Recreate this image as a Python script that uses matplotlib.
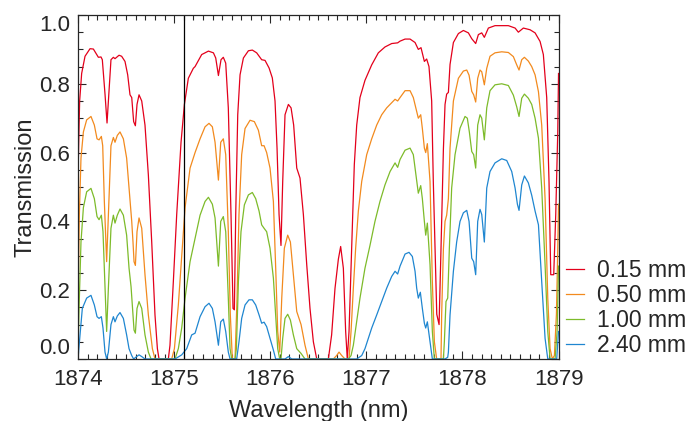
import matplotlib
matplotlib.use("Agg")
import matplotlib.pyplot as plt
from matplotlib.ticker import MultipleLocator

plt.rcParams['font.family'] = ['Liberation Sans', 'DejaVu Sans']

labels = ["0.15 mm", "0.50 mm", "1.00 mm", "2.40 mm"]
colors = ["#e3001b", "#f28a1e", "#7dbb2a", "#1f86d0"]
marker_line = 1875.107

wl_015 = [1874.000, 1874.017, 1874.038, 1874.073, 1874.125, 1874.160, 1874.194, 1874.212,
          1874.239, 1874.253, 1874.281, 1874.302, 1874.316, 1874.343, 1874.368, 1874.385,
          1874.427, 1874.454, 1874.489, 1874.517, 1874.541, 1874.559, 1874.579, 1874.597,
          1874.614, 1874.635, 1874.663, 1874.697, 1874.732, 1874.767, 1874.801, 1874.826,
          1874.843, 1874.940, 1874.957, 1874.992, 1875.027, 1875.072, 1875.107, 1875.148,
          1875.200, 1875.218, 1875.287, 1875.357, 1875.409, 1875.433, 1875.461, 1875.488,
          1875.512, 1875.537, 1875.564, 1875.592, 1875.613, 1875.627, 1875.641, 1875.662,
          1875.686, 1875.721, 1875.773, 1875.814, 1875.859, 1875.911, 1875.946, 1875.988,
          1876.022, 1876.050, 1876.071, 1876.092, 1876.112, 1876.130, 1876.154, 1876.189,
          1876.217, 1876.244, 1876.276, 1876.310, 1876.345, 1876.380, 1876.414, 1876.449,
          1876.484, 1876.605, 1876.639, 1876.674, 1876.709, 1876.733, 1876.761, 1876.785,
          1876.802, 1876.820, 1876.848, 1876.875, 1876.900, 1876.934, 1876.986, 1877.056,
          1877.125, 1877.194, 1877.264, 1877.326, 1877.351, 1877.403, 1877.455, 1877.507,
          1877.541, 1877.569, 1877.604, 1877.628, 1877.652, 1877.680, 1877.697, 1877.722,
          1877.733, 1877.757, 1877.777, 1877.802, 1877.819, 1877.836, 1877.854, 1877.871,
          1877.906, 1877.958, 1878.010, 1878.062, 1878.097, 1878.138, 1878.166, 1878.201,
          1878.228, 1878.270, 1878.339, 1878.478, 1878.548, 1878.582, 1878.634, 1878.704,
          1878.756, 1878.808, 1878.842, 1878.877, 1878.901, 1878.919, 1878.950, 1878.971,
          1878.992, 1879.000]
tr_015 = [0.535, 0.75, 0.83, 0.88, 0.902, 0.901, 0.885, 0.877,
          0.878, 0.87, 0.77, 0.686, 0.75, 0.87, 0.877, 0.873,
          0.883, 0.88, 0.865, 0.826, 0.768, 0.76, 0.69, 0.678,
          0.74, 0.768, 0.75, 0.68, 0.535, 0.34, 0.128, 0.03,
          0.0, 0.0, 0.04, 0.225, 0.42, 0.63, 0.74, 0.816,
          0.845, 0.85, 0.885, 0.895, 0.89, 0.875, 0.824, 0.87,
          0.877, 0.86, 0.73, 0.42, 0.147, 0.143, 0.42, 0.71,
          0.826, 0.875, 0.896, 0.898, 0.89, 0.87, 0.868, 0.846,
          0.817, 0.75, 0.613, 0.42, 0.33, 0.516, 0.71, 0.74,
          0.73, 0.68, 0.555, 0.526, 0.42, 0.274, 0.147, 0.05,
          0.0, 0.0, 0.07, 0.205, 0.29, 0.327, 0.264, 0.08,
          0.0, 0.08, 0.322, 0.565, 0.68, 0.76, 0.81, 0.855,
          0.89, 0.907, 0.917, 0.919, 0.924, 0.93, 0.93, 0.92,
          0.90, 0.905, 0.865, 0.872, 0.85, 0.75, 0.516, 0.24,
          0.13, 0.10, 0.32, 0.61, 0.74, 0.77, 0.775, 0.856,
          0.92, 0.946, 0.955, 0.948, 0.931, 0.917, 0.943, 0.948,
          0.935, 0.962, 0.969, 0.969, 0.962, 0.95, 0.962, 0.957,
          0.948, 0.923, 0.885, 0.76, 0.516, 0.245, 0.245, 0.42,
          0.66, 0.83]

wl_050 = [1874.000, 1874.014, 1874.031, 1874.056, 1874.090, 1874.135, 1874.170, 1874.198,
          1874.219, 1874.243, 1874.257, 1874.274, 1874.298, 1874.316, 1874.343, 1874.368,
          1874.385, 1874.409, 1874.437, 1874.472, 1874.506, 1874.531, 1874.559, 1874.572,
          1874.583, 1874.597, 1874.614, 1874.635, 1874.663, 1874.697, 1874.732, 1874.774,
          1874.801, 1874.975, 1875.003, 1875.044, 1875.079, 1875.114, 1875.166, 1875.218,
          1875.270, 1875.322, 1875.363, 1875.398, 1875.426, 1875.461, 1875.485, 1875.512,
          1875.537, 1875.564, 1875.585, 1875.606, 1875.634, 1875.655, 1875.675, 1875.703,
          1875.738, 1875.790, 1875.835, 1875.877, 1875.911, 1875.936, 1875.963, 1875.998,
          1876.033, 1876.057, 1876.078, 1876.099, 1876.120, 1876.147, 1876.182, 1876.210,
          1876.241, 1876.276, 1876.321, 1876.362, 1876.397, 1876.657, 1876.691, 1876.716,
          1876.744, 1876.778, 1876.820, 1876.841, 1876.865, 1876.889, 1876.917, 1876.952,
          1877.004, 1877.056, 1877.108, 1877.160, 1877.212, 1877.264, 1877.299, 1877.326,
          1877.351, 1877.403, 1877.455, 1877.489, 1877.524, 1877.541, 1877.566, 1877.583,
          1877.604, 1877.618, 1877.635, 1877.663, 1877.687, 1877.708, 1877.732, 1877.777,
          1877.784, 1877.802, 1877.819, 1877.836, 1877.854, 1877.871, 1877.906, 1877.958,
          1878.010, 1878.045, 1878.069, 1878.097, 1878.117, 1878.138, 1878.159, 1878.183,
          1878.201, 1878.228, 1878.253, 1878.287, 1878.339, 1878.409, 1878.478, 1878.530,
          1878.565, 1878.589, 1878.617, 1878.645, 1878.686, 1878.721, 1878.756, 1878.791,
          1878.825, 1878.860, 1878.888, 1878.912, 1878.936, 1878.957, 1878.978, 1878.992,
          1879.000]
tr_050 = [0.157, 0.42, 0.584, 0.66, 0.695, 0.705, 0.68, 0.64,
          0.637, 0.647, 0.62, 0.458, 0.283, 0.42, 0.62, 0.644,
          0.63, 0.65, 0.66, 0.64, 0.584, 0.497, 0.40, 0.341,
          0.283, 0.272, 0.37, 0.41, 0.38, 0.245, 0.128, 0.03,
          0.0, 0.0, 0.03, 0.157, 0.30, 0.44, 0.555, 0.60,
          0.64, 0.675, 0.685, 0.675, 0.63, 0.52, 0.63, 0.64,
          0.594, 0.37, 0.128, 0.0, 0.0, 0.177, 0.42, 0.594,
          0.67, 0.694, 0.69, 0.665, 0.62, 0.62, 0.60, 0.555,
          0.458, 0.264, 0.08, 0.02, 0.177, 0.322, 0.36, 0.34,
          0.245, 0.138, 0.10, 0.04, 0.0, 0.0, 0.01, 0.02,
          0.01, 0.0, 0.0, 0.08, 0.206, 0.322, 0.43, 0.516,
          0.594, 0.64, 0.68, 0.71, 0.73, 0.745, 0.755, 0.75,
          0.76, 0.78, 0.78, 0.76, 0.72, 0.70, 0.71, 0.67,
          0.613, 0.60, 0.626, 0.516, 0.225, 0.05, 0.0, 0.0,
          0.13, 0.32, 0.40, 0.418, 0.466, 0.613, 0.75, 0.816,
          0.837, 0.84, 0.825, 0.778, 0.768, 0.747, 0.816, 0.84,
          0.835, 0.797, 0.845, 0.88, 0.89, 0.893, 0.891, 0.879,
          0.855, 0.84, 0.87, 0.877, 0.866, 0.85, 0.826, 0.777,
          0.68, 0.466, 0.177, 0.03, 0.0, 0.01, 0.13, 0.32,
          0.45]

wl_100 = [1874.000, 1874.014, 1874.031, 1874.056, 1874.090, 1874.135, 1874.170, 1874.198,
          1874.219, 1874.243, 1874.260, 1874.281, 1874.298, 1874.316, 1874.343, 1874.368,
          1874.385, 1874.409, 1874.437, 1874.472, 1874.506, 1874.531, 1874.552, 1874.565,
          1874.583, 1874.597, 1874.614, 1874.635, 1874.663, 1874.697, 1874.732, 1874.760,
          1875.009, 1875.044, 1875.079, 1875.114, 1875.166, 1875.218, 1875.270, 1875.322,
          1875.357, 1875.398, 1875.426, 1875.461, 1875.485, 1875.512, 1875.537, 1875.564,
          1875.582, 1875.599, 1875.634, 1875.648, 1875.669, 1875.696, 1875.731, 1875.773,
          1875.814, 1875.849, 1875.884, 1875.911, 1875.936, 1875.963, 1875.998, 1876.033,
          1876.057, 1876.078, 1876.099, 1876.112, 1876.130, 1876.154, 1876.182, 1876.210,
          1876.241, 1876.276, 1876.321, 1876.362, 1876.813, 1876.841, 1876.865, 1876.900,
          1876.934, 1876.986, 1877.038, 1877.090, 1877.142, 1877.194, 1877.247, 1877.299,
          1877.326, 1877.351, 1877.403, 1877.455, 1877.489, 1877.517, 1877.541, 1877.566,
          1877.583, 1877.604, 1877.618, 1877.635, 1877.663, 1877.687, 1877.708, 1877.802,
          1877.812, 1877.829, 1877.847, 1877.864, 1877.888, 1877.923, 1877.975, 1878.027,
          1878.051, 1878.072, 1878.097, 1878.117, 1878.138, 1878.159, 1878.183, 1878.201,
          1878.228, 1878.253, 1878.287, 1878.339, 1878.409, 1878.478, 1878.530, 1878.565,
          1878.589, 1878.617, 1878.645, 1878.686, 1878.721, 1878.756, 1878.791, 1878.825,
          1878.860, 1878.888, 1878.912, 1878.964, 1878.985, 1879.000]
tr_100 = [0.03, 0.177, 0.34, 0.44, 0.486, 0.496, 0.466, 0.414,
          0.405, 0.418, 0.37, 0.206, 0.08, 0.206, 0.38, 0.418,
          0.395, 0.418, 0.436, 0.418, 0.36, 0.264, 0.21, 0.157,
          0.084, 0.075, 0.147, 0.167, 0.147, 0.07, 0.02, 0.0,
          0.0, 0.03, 0.09, 0.177, 0.283, 0.35, 0.418, 0.458,
          0.47, 0.45, 0.41, 0.27, 0.40, 0.414, 0.37, 0.177,
          0.03, 0.0, 0.0, 0.03, 0.225, 0.37, 0.448, 0.477,
          0.484, 0.466, 0.43, 0.39, 0.38, 0.37, 0.322, 0.235,
          0.128, 0.03, 0.0, 0.0, 0.06, 0.118, 0.13, 0.113,
          0.07, 0.03, 0.016, 0.0, 0.0, 0.01, 0.04, 0.11,
          0.177, 0.264, 0.33, 0.40, 0.458, 0.506, 0.545, 0.57,
          0.557, 0.58, 0.607, 0.613, 0.594, 0.535, 0.482, 0.504,
          0.466, 0.40, 0.36, 0.395, 0.274, 0.08, 0.0, 0.0,
          0.05, 0.167, 0.177, 0.322, 0.497, 0.594, 0.671, 0.705,
          0.70, 0.66, 0.603, 0.594, 0.555, 0.68, 0.71, 0.70,
          0.637, 0.73, 0.78, 0.797, 0.80, 0.795, 0.767, 0.733,
          0.705, 0.758, 0.77, 0.758, 0.74, 0.70, 0.642, 0.497,
          0.274, 0.08, 0.0, 0.0, 0.08, 0.27]

wl_240 = [1874.000, 1874.021, 1874.045, 1874.090, 1874.135, 1874.170, 1874.198, 1874.219,
          1874.243, 1874.260, 1874.281, 1874.298, 1874.316, 1874.343, 1874.368, 1874.385,
          1874.409, 1874.437, 1874.472, 1874.506, 1874.531, 1874.559, 1874.579, 1874.610,
          1874.635, 1874.663, 1874.697, 1875.009, 1875.079, 1875.131, 1875.183, 1875.218,
          1875.270, 1875.322, 1875.363, 1875.398, 1875.426, 1875.461, 1875.485, 1875.512,
          1875.537, 1875.564, 1875.582, 1875.651, 1875.675, 1875.703, 1875.738, 1875.779,
          1875.814, 1875.849, 1875.884, 1875.911, 1875.936, 1875.963, 1875.998, 1876.033,
          1876.057, 1876.154, 1876.189, 1876.224, 1876.900, 1876.952, 1876.986, 1877.021,
          1877.056, 1877.108, 1877.160, 1877.212, 1877.264, 1877.299, 1877.326, 1877.351,
          1877.403, 1877.444, 1877.479, 1877.507, 1877.524, 1877.541, 1877.562, 1877.583,
          1877.604, 1877.618, 1877.635, 1877.663, 1877.687, 1877.819, 1877.847, 1877.854,
          1877.871, 1877.906, 1877.940, 1877.975, 1878.010, 1878.045, 1878.069, 1878.097,
          1878.117, 1878.138, 1878.159, 1878.183, 1878.201, 1878.228, 1878.253, 1878.287,
          1878.339, 1878.409, 1878.461, 1878.513, 1878.548, 1878.572, 1878.589, 1878.617,
          1878.645, 1878.686, 1878.721, 1878.756, 1878.791, 1878.825, 1878.860, 1878.888,
          1878.981, 1879.000]
tr_240 = [0.0, 0.07, 0.147, 0.177, 0.185, 0.157, 0.123, 0.118,
          0.123, 0.09, 0.02, 0.0, 0.02, 0.10, 0.123, 0.108,
          0.125, 0.135, 0.118, 0.07, 0.03, 0.01, 0.0, 0.007,
          0.012, 0.007, 0.0, 0.0, 0.012, 0.03, 0.07, 0.075,
          0.123, 0.152, 0.162, 0.147, 0.108, 0.04, 0.108, 0.116,
          0.08, 0.02, 0.0, 0.0, 0.05, 0.118, 0.157, 0.172,
          0.172, 0.157, 0.128, 0.104, 0.107, 0.094, 0.06, 0.026,
          0.0, 0.0, 0.007, 0.0, 0.0, 0.01, 0.03, 0.06,
          0.09, 0.128, 0.167, 0.206, 0.24, 0.255, 0.247, 0.27,
          0.305, 0.31, 0.298, 0.255, 0.206, 0.177, 0.194, 0.147,
          0.104, 0.09, 0.108, 0.05, 0.0, 0.0, 0.005, 0.02,
          0.128, 0.255, 0.34, 0.40, 0.425, 0.432, 0.40, 0.293,
          0.283, 0.245, 0.40, 0.435, 0.42, 0.34, 0.497, 0.545,
          0.57, 0.582, 0.577, 0.545, 0.497, 0.45, 0.432, 0.506,
          0.532, 0.512, 0.476, 0.43, 0.39, 0.225, 0.06, 0.0,
          0.0, 0.08]

series = [(wl_015, tr_015), (wl_050, tr_050), (wl_100, tr_100), (wl_240, tr_240)]

TXT = '#262626'

fig = plt.figure(figsize=(6.94, 4.21), dpi=100)
ax = fig.add_axes([0.1124, 0.1473, 0.6924, 0.8171])

for (wl, tr), lab, col in zip(series, labels, colors):
    ax.plot(wl, tr, color=col, lw=0.9, label=lab, solid_joinstyle='round')

ax.axvline(marker_line, color='black', lw=0.9)

ax.set_xlim(1874, 1879)
ax.set_ylim(0, 1.0)
ax.xaxis.set_minor_locator(MultipleLocator(0.1))
ax.yaxis.set_minor_locator(MultipleLocator(0.05))
ax.set_xticks([1874, 1875, 1876, 1877, 1878, 1879])
ax.set_xticklabels(['1874', '1875', '1876', '1877', '1878', '1879'])
ax.set_yticks([0.0, 0.2, 0.4, 0.6, 0.8, 1.0])
ax.set_yticklabels(['0.0', '0.2', '0.4', '0.6', '0.8', '1.0'])
ax.tick_params(which='both', direction='in', top=True, right=True, labelsize=16,
               colors=TXT, width=0.8)
ax.tick_params(which='major', length=6)
ax.tick_params(which='minor', length=3.5)
ax.tick_params(axis='x', which='major', pad=7.5)
ax.tick_params(axis='y', which='major', pad=5.5)
ylabs = ax.get_yticklabels()
ylabs[0].set_va('bottom')
ylabs[-1].set_va('top')
for sp in ax.spines.values():
    sp.set_linewidth(0.9)
    sp.set_color(TXT)

ax.set_xlabel('Wavelength (nm)', fontsize=17, color=TXT, labelpad=7)
ax.set_ylabel('Transmission', fontsize=17, color=TXT, labelpad=2)

fig.legend(loc='center left', bbox_to_anchor=(0.815, 0.268), frameon=False,
           fontsize=16.5, handlelength=0.82, handletextpad=0.55, labelspacing=0.08,
           borderaxespad=0, borderpad=0, labelcolor=TXT)

fig.savefig('out.png', dpi=100)
